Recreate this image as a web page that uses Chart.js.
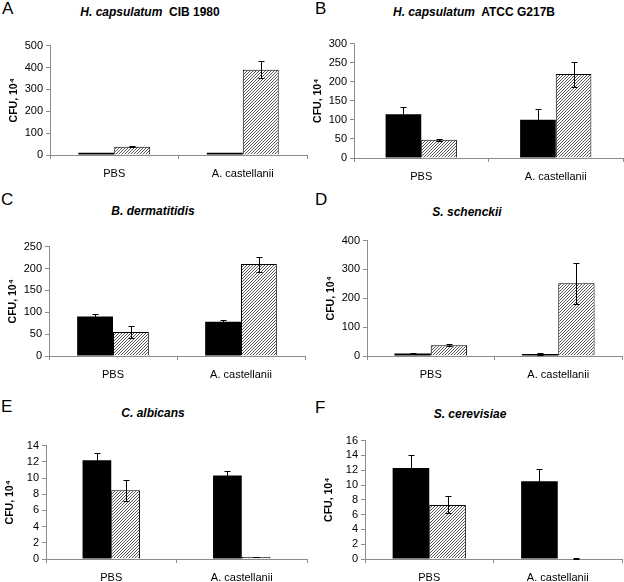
<!DOCTYPE html>
<html>
<head>
<meta charset="utf-8">
<script src="https://cdn.jsdelivr.net/npm/chart.js@4"></script>
<style>
  html, body { margin: 0; padding: 0; background: #fff; }
  body { width: 624px; height: 582px; position: relative; overflow: hidden; font-family: "Liberation Sans", Arial, sans-serif; }
  .box { position: absolute; }
  .letter { position: absolute; font-size: 17px; line-height: 17px; color: #000; }
  .title { position: absolute; font-size: 12px; font-weight: bold; line-height: 14px; white-space: nowrap; transform: translateX(-50%); color: #000; }
</style>
</head>
<body>
<script>
// chart values
const categories = ['PBS', 'A. castellanii'];
const panelLetters = ['A', 'B', 'C', 'D', 'E', 'F'];
const speciesNames = ['H. capsulatum', 'H. capsulatum', 'B. dermatitidis', 'S. schenckii', 'C. albicans', 'S. cerevisiae'];
const strainNames = ['CIB 1980', 'ATCC G217B', '', '', '', ''];
const blackValues = [[10, 10], [115, 100], [90, 78], [9, 7], [12.2, 10.3], [12.3, 10.5]];
const blackErrors = [[1, 1], [18, 28], [6, 5], [1, 2], [0.9, 0.6], [1.8, 1.6]];
const hatchValues = [[38, 390], [48, 220], [55, 210], [37, 252], [8.5, 0.25], [7.3, 0.08]];
const hatchErrors = [[3, 38], [3, 33], [13, 17], [4, 72], [1.3, 0.05], [1.15, 0.04]];
const yMax = [500, 300, 250, 400, 14, 16];
const yStep = [100, 50, 50, 100, 2, 2];
const yAxisTitle = 'CFU, 10\u2074';

// layout: [axis x, plot top, plot right, plot bottom], letter pos, title center
const plotBoxes = [[50, 42, 307, 155], [354, 40, 623, 158], [49, 243, 305, 356],
                   [367, 237, 622, 356], [46, 442, 307, 559], [365, 437, 622, 559]];
const letterPos = [[2, 0], [315, 0], [1, 191], [315, 191], [1, 398], [315, 399]];
const titlePos = [[150, 5], [474, 5], [153, 204], [467, 205], [153, 406], [470, 407]];
const catPct = [0.56, 0.53, 0.56, 0.57, 0.44, 0.57];

const FONT = '"Liberation Sans", Arial, sans-serif';
const YW = 44, PT = 6, PR = 1, XH = 29;

function makeHatch() {
  const c = document.createElement('canvas');
  c.width = 3; c.height = 3;
  const g = c.getContext('2d');
  g.fillStyle = '#fff';
  g.fillRect(0, 0, 3, 3);
  g.strokeStyle = '#444';
  g.lineWidth = 0.9;
  g.beginPath();
  g.moveTo(-1, 4); g.lineTo(4, -1);
  g.moveTo(-1, 1); g.lineTo(1, -1);
  g.moveTo(2, 4); g.lineTo(4, 2);
  g.stroke();
  return g.createPattern(c, 'repeat');
}
const hatch = makeHatch();

const errorBars = {
  id: 'errorBars',
  afterDatasetsDraw(chart) {
    const { ctx, scales } = chart;
    ctx.save();
    ctx.strokeStyle = '#000';
    ctx.lineWidth = 1;
    chart.data.datasets.forEach((ds, i) => {
      const meta = chart.getDatasetMeta(i);
      meta.data.forEach((bar, j) => {
        const v = ds.data[j], e = ds.errs[j];
        const x = Math.round(bar.x) + 0.5;
        const yTop = Math.round(scales.y.getPixelForValue(v + e)) + 0.5;
        const yBot = Math.round(scales.y.getPixelForValue(Math.max(0, v - e))) + 0.5;
        ctx.beginPath();
        ctx.moveTo(x, yTop); ctx.lineTo(x, yBot);
        ctx.moveTo(x - 3, yTop); ctx.lineTo(x + 3, yTop);
        ctx.moveTo(x - 3, yBot); ctx.lineTo(x + 3, yBot);
        ctx.stroke();
      });
    });
    ctx.restore();
  }
};

panelLetters.forEach((letter, p) => {
  const [ax, top, right, bottom] = plotBoxes[p];
  const left = ax - YW, boxTop = top - PT;

  const L = document.createElement('div');
  L.className = 'letter';
  L.style.left = letterPos[p][0] + 'px';
  L.style.top = letterPos[p][1] + 'px';
  L.textContent = letter;
  document.body.appendChild(L);

  const T = document.createElement('div');
  T.className = 'title';
  T.style.left = titlePos[p][0] + 'px';
  T.style.top = titlePos[p][1] + 'px';
  const it = document.createElement('i');
  it.textContent = speciesNames[p];
  T.appendChild(it);
  if (strainNames[p]) T.appendChild(document.createTextNode('\u00a0 ' + strainNames[p]));
  document.body.appendChild(T);

  const box = document.createElement('div');
  box.className = 'box';
  box.style.left = left + 'px';
  box.style.top = boxTop + 'px';
  box.style.width = (right + PR - left) + 'px';
  box.style.height = (bottom + XH - boxTop) + 'px';
  const cv = document.createElement('canvas');
  box.appendChild(cv);
  document.body.appendChild(box);

  new Chart(cv, {
    type: 'bar',
    data: {
      labels: categories,
      datasets: [{
        data: blackValues[p],
        errs: blackErrors[p],
        backgroundColor: '#000',
        borderColor: '#000',
        borderWidth: 0
      }, {
        data: hatchValues[p],
        errs: hatchErrors[p],
        backgroundColor: hatch,
        borderColor: '#000',
        borderWidth: 1
      }]
    },
    options: {
      responsive: true,
      maintainAspectRatio: false,
      animation: false,
      events: [],
      categoryPercentage: catPct[p],
      barPercentage: 1,
      layout: { padding: { left: 0, top: PT, right: PR, bottom: 0 } },
      plugins: { legend: { display: false }, tooltip: { enabled: false } },
      scales: {
        x: {
          afterFit: s => { s.height = XH; },
          border: { color: '#8c8c8c', width: 1 },
          grid: { drawOnChartArea: false, drawTicks: true, tickLength: 4, color: '#8c8c8c', offset: true },
          ticks: { color: '#000', padding: 8, font: { family: FONT, size: 11 }, maxRotation: 0 }
        },
        y: {
          min: 0,
          max: yMax[p],
          afterFit: s => { s.width = YW; },
          border: { color: '#8c8c8c', width: 1 },
          grid: { drawOnChartArea: false, drawTicks: true, tickLength: 4, color: '#8c8c8c' },
          ticks: { stepSize: yStep[p], autoSkip: false, color: '#000', padding: 3, font: { family: FONT, size: 11 } },
          title: {
            display: true,
            text: yAxisTitle,
            color: '#000',
            padding: { top: 2, bottom: 0 },
            font: { family: FONT, size: 10.5, weight: 'bold' }
          }
        }
      }
    },
    plugins: [errorBars]
  });
});
</script>
</body>
</html>
